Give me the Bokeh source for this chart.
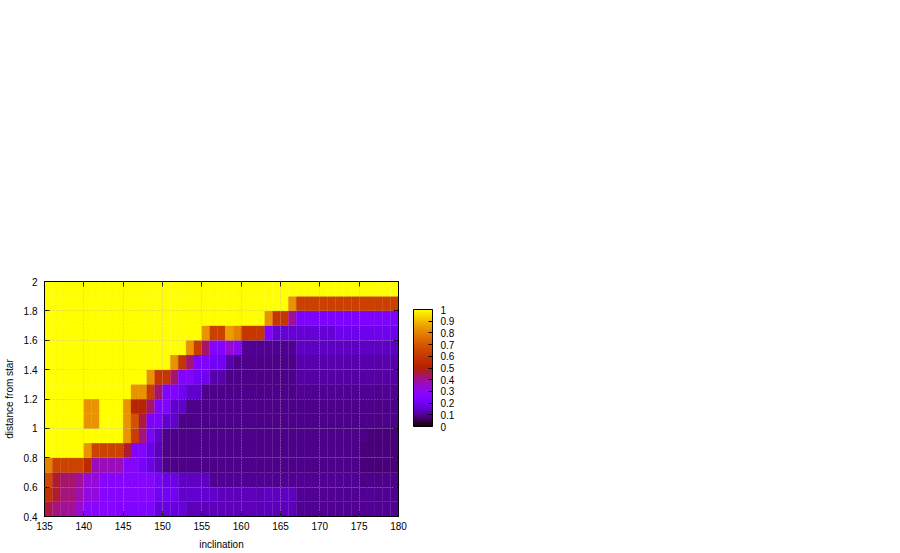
import numpy as np
from bokeh.plotting import figure
from bokeh.models import (ColumnDataSource, LinearColorMapper, ColorBar,
                          FixedTicker, LinearAxis, AllLabels)
from bokeh.embed import file_html
from bokeh.resources import INLINE

# ---- data -------------------------------------------------------------
incl_edges = list(range(135, 181))                      # 46 edges -> 45 cells
dist_edges = [0.4, 0.5, 0.6, 0.7, 0.8, 0.9, 1.0, 1.1, 1.2, 1.3, 1.4,
              1.5, 1.6, 1.7, 1.8, 1.9, 2.0]              # 17 edges -> 16 rows

# one list per distance row (value for inclination 135-136, 136-137, ... 179-180)
row_0_4 = [0.46, 0.42, 0.40, 0.40, 0.35, 0.28, 0.28, 0.28, 0.28, 0.25, 0.25, 0.25, 0.25, 0.25, 0.17,
           0.17, 0.17, 0.17, 0.13, 0.13, 0.13, 0.13, 0.13, 0.13, 0.13, 0.13, 0.13, 0.13, 0.13, 0.13,
           0.13, 0.13, 0.10, 0.10, 0.10, 0.10, 0.10, 0.10, 0.10, 0.10, 0.10, 0.10, 0.10, 0.10, 0.10]
row_0_5 = [0.58, 0.47, 0.42, 0.42, 0.38, 0.33, 0.33, 0.27, 0.27, 0.27, 0.27, 0.27, 0.27, 0.27, 0.20,
           0.20, 0.20, 0.15, 0.15, 0.15, 0.15, 0.15, 0.13, 0.13, 0.13, 0.13, 0.13, 0.13, 0.14, 0.14,
           0.14, 0.14, 0.10, 0.10, 0.10, 0.10, 0.10, 0.10, 0.10, 0.10, 0.10, 0.10, 0.10, 0.10, 0.10]
row_0_6 = [0.66, 0.47, 0.43, 0.43, 0.40, 0.34, 0.34, 0.27, 0.27, 0.27, 0.27, 0.27, 0.27, 0.27, 0.22,
           0.18, 0.18, 0.14, 0.14, 0.14, 0.14, 0.10, 0.10, 0.10, 0.10, 0.10, 0.10, 0.10, 0.10, 0.10,
           0.10, 0.10, 0.10, 0.10, 0.10, 0.10, 0.10, 0.10, 0.10, 0.10, 0.09, 0.09, 0.09, 0.09, 0.09]
row_0_7 = [0.80, 0.64, 0.64, 0.64, 0.64, 0.55, 0.37, 0.37, 0.37, 0.37, 0.27, 0.27, 0.22, 0.18, 0.14,
           0.09, 0.09, 0.09, 0.09, 0.09, 0.09, 0.09, 0.09, 0.09, 0.09, 0.09, 0.09, 0.09, 0.09, 0.09,
           0.09, 0.09, 0.09, 0.09, 0.09, 0.09, 0.09, 0.09, 0.09, 0.09, 0.08, 0.08, 0.08, 0.08, 0.08]
row_0_8 = [1.00, 1.00, 1.00, 1.00, 1.00, 0.83, 0.64, 0.64, 0.64, 0.64, 0.47, 0.25, 0.25, 0.18, 0.13,
           0.09, 0.09, 0.09, 0.09, 0.09, 0.09, 0.09, 0.09, 0.09, 0.09, 0.09, 0.09, 0.09, 0.09, 0.09,
           0.09, 0.09, 0.09, 0.09, 0.09, 0.09, 0.09, 0.09, 0.09, 0.09, 0.08, 0.08, 0.08, 0.08, 0.08]
row_0_9 = [1.00, 1.00, 1.00, 1.00, 1.00, 1.00, 1.00, 1.00, 1.00, 1.00, 0.83, 0.62, 0.42, 0.23, 0.15,
           0.09, 0.09, 0.09, 0.09, 0.09, 0.09, 0.09, 0.09, 0.09, 0.09, 0.09, 0.09, 0.09, 0.09, 0.09,
           0.09, 0.09, 0.09, 0.09, 0.09, 0.09, 0.09, 0.09, 0.09, 0.09, 0.09, 0.08, 0.08, 0.08, 0.08]
row_1_0 = [1.00, 1.00, 1.00, 1.00, 1.00, 0.83, 0.83, 1.00, 1.00, 1.00, 0.83, 0.68, 0.46, 0.24, 0.24,
           0.15, 0.15, 0.09, 0.09, 0.09, 0.09, 0.09, 0.09, 0.09, 0.09, 0.09, 0.09, 0.09, 0.09, 0.09,
           0.09, 0.09, 0.09, 0.09, 0.09, 0.09, 0.09, 0.09, 0.09, 0.09, 0.09, 0.09, 0.09, 0.09, 0.09]
row_1_1 = [1.00, 1.00, 1.00, 1.00, 1.00, 0.83, 0.83, 1.00, 1.00, 1.00, 0.83, 0.52, 0.52, 0.43, 0.25,
           0.25, 0.15, 0.15, 0.09, 0.09, 0.09, 0.09, 0.09, 0.09, 0.09, 0.09, 0.09, 0.09, 0.09, 0.09,
           0.09, 0.09, 0.09, 0.09, 0.09, 0.09, 0.09, 0.09, 0.09, 0.09, 0.09, 0.09, 0.09, 0.09, 0.09]
row_1_2 = [1.00, 1.00, 1.00, 1.00, 1.00, 1.00, 1.00, 1.00, 1.00, 1.00, 1.00, 0.83, 0.83, 0.62, 0.43,
           0.26, 0.26, 0.20, 0.15, 0.15, 0.09, 0.09, 0.09, 0.09, 0.09, 0.09, 0.09, 0.09, 0.09, 0.09,
           0.09, 0.09, 0.10, 0.10, 0.10, 0.10, 0.10, 0.10, 0.10, 0.10, 0.10, 0.10, 0.10, 0.10, 0.10]
row_1_3 = [1.00, 1.00, 1.00, 1.00, 1.00, 1.00, 1.00, 1.00, 1.00, 1.00, 1.00, 1.00, 1.00, 0.83, 0.60,
           0.60, 0.43, 0.26, 0.26, 0.20, 0.20, 0.12, 0.12, 0.09, 0.09, 0.09, 0.09, 0.09, 0.09, 0.09,
           0.09, 0.09, 0.11, 0.11, 0.11, 0.11, 0.11, 0.11, 0.11, 0.11, 0.11, 0.11, 0.11, 0.11, 0.11]
row_1_4 = [1.00, 1.00, 1.00, 1.00, 1.00, 1.00, 1.00, 1.00, 1.00, 1.00, 1.00, 1.00, 1.00, 1.00, 1.00,
           1.00, 0.83, 0.60, 0.43, 0.26, 0.26, 0.20, 0.20, 0.12, 0.09, 0.09, 0.09, 0.09, 0.09, 0.09,
           0.09, 0.09, 0.12, 0.12, 0.12, 0.12, 0.12, 0.12, 0.12, 0.12, 0.12, 0.12, 0.12, 0.12, 0.12]
row_1_5 = [1.00, 1.00, 1.00, 1.00, 1.00, 1.00, 1.00, 1.00, 1.00, 1.00, 1.00, 1.00, 1.00, 1.00, 1.00,
           1.00, 1.00, 1.00, 0.83, 0.62, 0.43, 0.26, 0.25, 0.35, 0.30, 0.10, 0.10, 0.10, 0.10, 0.10,
           0.10, 0.10, 0.14, 0.14, 0.14, 0.14, 0.14, 0.14, 0.14, 0.14, 0.14, 0.14, 0.14, 0.14, 0.14]
row_1_6 = [1.00, 1.00, 1.00, 1.00, 1.00, 1.00, 1.00, 1.00, 1.00, 1.00, 1.00, 1.00, 1.00, 1.00, 1.00,
           1.00, 1.00, 1.00, 1.00, 1.00, 0.83, 0.63, 0.63, 0.85, 0.80, 0.60, 0.60, 0.60, 0.25, 0.16,
           0.16, 0.16, 0.16, 0.16, 0.16, 0.16, 0.16, 0.19, 0.19, 0.19, 0.19, 0.19, 0.19, 0.19, 0.19]
row_1_7 = [1.00, 1.00, 1.00, 1.00, 1.00, 1.00, 1.00, 1.00, 1.00, 1.00, 1.00, 1.00, 1.00, 1.00, 1.00,
           1.00, 1.00, 1.00, 1.00, 1.00, 1.00, 1.00, 1.00, 1.00, 1.00, 1.00, 1.00, 1.00, 0.83, 0.60,
           0.60, 0.40, 0.24, 0.24, 0.24, 0.24, 0.24, 0.24, 0.24, 0.24, 0.24, 0.24, 0.24, 0.24, 0.24]
row_1_8 = [1.00, 1.00, 1.00, 1.00, 1.00, 1.00, 1.00, 1.00, 1.00, 1.00, 1.00, 1.00, 1.00, 1.00, 1.00,
           1.00, 1.00, 1.00, 1.00, 1.00, 1.00, 1.00, 1.00, 1.00, 1.00, 1.00, 1.00, 1.00, 1.00, 1.00,
           1.00, 0.83, 0.63, 0.63, 0.63, 0.63, 0.63, 0.63, 0.63, 0.63, 0.63, 0.63, 0.63, 0.63, 0.63]
row_1_9 = [1.00, 1.00, 1.00, 1.00, 1.00, 1.00, 1.00, 1.00, 1.00, 1.00, 1.00, 1.00, 1.00, 1.00, 1.00,
           1.00, 1.00, 1.00, 1.00, 1.00, 1.00, 1.00, 1.00, 1.00, 1.00, 1.00, 1.00, 1.00, 1.00, 1.00,
           1.00, 1.00, 1.00, 1.00, 1.00, 1.00, 1.00, 1.00, 1.00, 1.00, 1.00, 1.00, 1.00, 1.00, 1.00]

rows = [row_0_4, row_0_5, row_0_6, row_0_7, row_0_8, row_0_9, row_1_0, row_1_1,
        row_1_2, row_1_3, row_1_4, row_1_5, row_1_6, row_1_7, row_1_8, row_1_9]

x_ticks = [135, 140, 145, 150, 155, 160, 165, 170, 175, 180]
y_ticks = [0.4, 0.6, 0.8, 1.0, 1.2, 1.4, 1.6, 1.8, 2.0]
y_tick_labels = ["0.4", "0.6", "0.8", "1", "1.2", "1.4", "1.6", "1.8", "2"]
cb_ticks = [0, 0.1, 0.2, 0.3, 0.4, 0.5, 0.6, 0.7, 0.8, 0.9, 1]
cb_tick_labels = ["0", "0.1", "0.2", "0.3", "0.4", "0.5", "0.6", "0.7", "0.8", "0.9", "1"]

x_label = "inclination"
y_label = "distance from star"

# ---- gnuplot default palette (rgbformulae 7,5,15) ----------------------
t = np.linspace(0, 1, 256)
r = np.sqrt(t)
g = t ** 3
b = np.clip(np.sin(2 * np.pi * t), 0, 1)
palette = ["#%02x%02x%02x" % (int(round(rr * 255)), int(round(gg * 255)), int(round(bb * 255)))
           for rr, gg, bb in zip(r, g, b)]
mapper = LinearColorMapper(palette=palette, low=0, high=1)

# ---- build cells -------------------------------------------------------
left, right, bottom, top, val = [], [], [], [], []
for j, row in enumerate(rows):
    for i, v in enumerate(row):
        left.append(incl_edges[i])
        right.append(incl_edges[i + 1])
        bottom.append(dist_edges[j])
        top.append(dist_edges[j + 1])
        val.append(v)
src = ColumnDataSource(dict(left=left, right=right, bottom=bottom, top=top, val=val))

FONT = "Liberation Sans"

p = figure(frame_width=354, frame_height=235,
           x_range=(135, 180), y_range=(0.4, 2.0),
           min_border_left=44, min_border_top=281, min_border_bottom=34, min_border_right=470,
           output_backend="svg", toolbar_location=None,
           x_axis_label=x_label, y_axis_label=y_label)
p.background_fill_color = "white"
p.border_fill_color = "white"
p.outline_line_color = "black"
p.outline_line_width = 1

p.quad(left="left", right="right", bottom="bottom", top="top", source=src,
       fill_color={"field": "val", "transform": mapper},
       line_color={"field": "val", "transform": mapper}, line_width=0.3)

# axes
for ax in (p.xaxis[0], p.yaxis[0]):
    ax.axis_line_color = "black"
    ax.major_tick_in = 5
    ax.major_tick_out = 0
    ax.minor_tick_line_color = None
    ax.major_label_text_font = FONT
    ax.major_label_text_font_size = "10px"
    ax.major_label_text_color = "black"
    ax.axis_label_text_font = FONT
    ax.axis_label_text_font_size = "10px"
    ax.axis_label_text_font_style = "normal"
    ax.axis_label_text_color = "black"

p.xaxis[0].ticker = FixedTicker(ticks=x_ticks)
p.xaxis[0].major_label_standoff = 5
p.xaxis[0].axis_label_standoff = 6
p.yaxis[0].ticker = FixedTicker(ticks=y_ticks)
p.yaxis[0].major_label_overrides = {tv: lab for tv, lab in zip(y_ticks, y_tick_labels)}
p.yaxis[0].major_label_standoff = 7
p.yaxis[0].axis_label_standoff = 6

# mirrored ticks
top_ax = LinearAxis(ticker=FixedTicker(ticks=x_ticks), major_tick_in=5, major_tick_out=0,
                    minor_tick_line_color=None, major_label_text_alpha=0,
                    major_label_text_font_size="1px", axis_line_color="black")
right_ax = LinearAxis(ticker=FixedTicker(ticks=y_ticks), major_tick_in=5, major_tick_out=0,
                      minor_tick_line_color=None, major_label_text_alpha=0,
                      major_label_text_font_size="1px", axis_line_color="black")
p.add_layout(top_ax, "above")
p.add_layout(right_ax, "right")

# grid (dotted, drawn over the map)
p.xgrid.ticker = FixedTicker(ticks=x_ticks)
p.ygrid.ticker = FixedTicker(ticks=y_ticks)
for gr in (p.xgrid[0], p.ygrid[0]):
    gr.grid_line_color = "#a8a8a8"
    gr.grid_line_alpha = 0.6
    gr.grid_line_dash = "1 2"
    gr.level = "overlay"

# colour bar
cb = ColorBar(color_mapper=mapper, ticker=FixedTicker(ticks=cb_ticks),
              major_label_overrides={tv: lab for tv, lab in zip(cb_ticks, cb_tick_labels)},
              major_label_policy=AllLabels(),
              width=19, height=117, location=(369, 90), padding=0,
              background_fill_alpha=0, border_line_color=None,
              bar_line_color="black", bar_line_width=1,
              major_tick_line_color="black", major_tick_in=4, major_tick_out=0,
              minor_tick_line_color=None, label_standoff=8,
              major_label_text_font=FONT, major_label_text_font_size="10px",
              major_label_text_color="black")
p.add_layout(cb, "center")

open("out.html", "w").write(file_html(p, INLINE))
